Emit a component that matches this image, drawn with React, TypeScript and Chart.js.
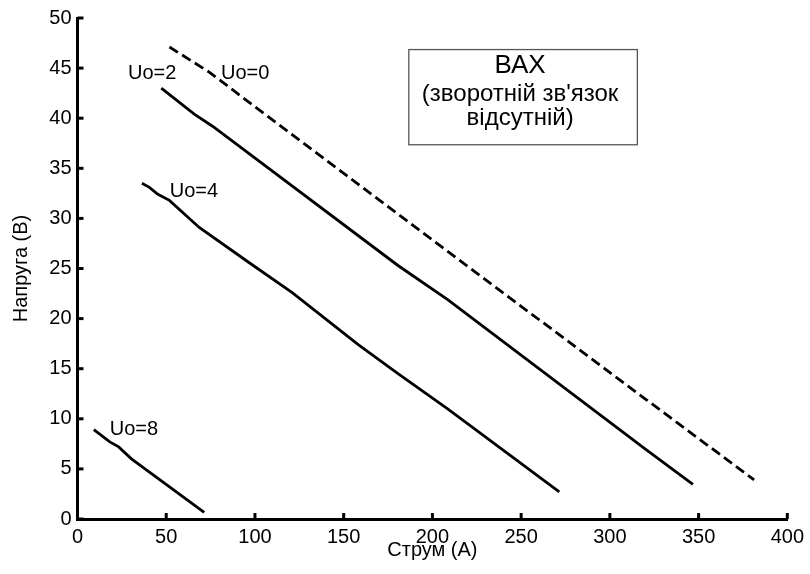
import React, { useEffect, useRef } from "react";
import { Chart, registerables } from "chart.js";

Chart.register(...registerables);

// Data (current A, voltage V)
const uo0X = [51.8, 74.2, 92.9, 208.6, 320.6, 381.3];
const uo0Y = [47.1, 44.6, 42.1, 26.7, 11.9, 3.9];

const uo2X = [47.2, 65.8, 76.1, 180.6, 208.6, 320.6, 346.8];
const uo2Y = [43.0, 40.4, 39.2, 25.3, 21.9, 6.9, 3.45];

const uo4X = [36.3, 40.5, 45.3, 51.8, 68.6, 96.6, 121.0, 158.2, 180.6, 208.6, 271.5];
const uo4Y = [33.5, 33.1, 32.4, 31.8, 29.1, 25.6, 22.6, 17.4, 14.5, 11.0, 2.7];

const uo8X = [9.2, 18.2, 23.2, 30.4, 71.4];
const uo8Y = [8.93, 7.7, 7.2, 6.0, 0.67];

const curveLabels = ["Uo=0", "Uo=2", "Uo=4", "Uo=8"];
const curveLabelX = [94.5, 42.1, 65.6, 31.8];
const curveLabelY = [44.5, 44.5, 32.7, 8.9];

const boxLines = ["ВАХ", "(зворотній зв'язок", "відсутній)"];

const xTitle = "Струм (А)";
const yTitle = "Напруга (В)";

const FONT = "'Liberation Sans', Arial, sans-serif";

function pts(xs: number[], ys: number[]) {
  return xs.map((x, i) => ({ x, y: ys[i] }));
}

export default function App() {
  const ref = useRef<HTMLCanvasElement | null>(null);

  useEffect(() => {
    if (!ref.current) return;

    const overlay = {
      id: "overlay",
      afterDatasetsDraw(chart: any) {
        const ctx = chart.ctx;
        const xs = chart.scales.x;
        const ys = chart.scales.y;
        const area = chart.chartArea;
        ctx.save();
        // inward ticks
        ctx.strokeStyle = "#000";
        ctx.lineWidth = 3;
        ctx.lineCap = "butt";
        xs.ticks.forEach((t: any) => {
          const px = xs.getPixelForValue(t.value);
          ctx.beginPath();
          ctx.moveTo(px, area.bottom);
          ctx.lineTo(px, area.bottom - 6);
          ctx.stroke();
        });
        ys.ticks.forEach((t: any) => {
          const py = ys.getPixelForValue(t.value);
          ctx.beginPath();
          ctx.moveTo(area.left, py);
          ctx.lineTo(area.left + 6, py);
          ctx.stroke();
        });
        // curve labels
        ctx.fillStyle = "#000";
        ctx.font = `20px ${FONT}`;
        ctx.textAlign = "center";
        ctx.textBaseline = "middle";
        curveLabels.forEach((l, i) => {
          ctx.fillText(l, xs.getPixelForValue(curveLabelX[i]), ys.getPixelForValue(curveLabelY[i]));
        });
        // text box
        const bx0 = xs.getPixelForValue(186.7);
        const bx1 = xs.getPixelForValue(315.5);
        const by0 = ys.getPixelForValue(46.85);
        const by1 = ys.getPixelForValue(37.35);
        ctx.fillStyle = "#fff";
        ctx.fillRect(bx0, by0, bx1 - bx0, by1 - by0);
        ctx.strokeStyle = "#555";
        ctx.lineWidth = 1.3;
        ctx.strokeRect(bx0, by0, bx1 - bx0, by1 - by0);
        ctx.fillStyle = "#000";
        ctx.textBaseline = "alphabetic";
        const cx = (bx0 + bx1) / 2 - 3;
        ctx.font = `26px ${FONT}`;
        ctx.fillText(boxLines[0], cx, by0 + 23);
        ctx.font = `24px ${FONT}`;
        ctx.fillText(boxLines[1], cx, by0 + 51);
        ctx.fillText(boxLines[2], cx, by0 + 75);
        ctx.restore();
      },
    };

    const chart = new Chart(ref.current, {
      type: "scatter",
      data: {
        datasets: [
          { data: pts(uo0X, uo0Y), borderDash: [10, 5] },
          { data: pts(uo2X, uo2Y) },
          { data: pts(uo4X, uo4Y) },
          { data: pts(uo8X, uo8Y) },
        ].map((d) => ({
          ...d,
          showLine: true,
          borderColor: "#000",
          borderWidth: 2.8,
          pointRadius: 0,
          fill: false,
          tension: 0,
        })) as any,
      },
      options: {
        animation: false,
        responsive: true,
        maintainAspectRatio: false,
        layout: { padding: { left: 0, top: 17, right: 18, bottom: 0 } },
        plugins: {
          legend: { display: false },
          tooltip: { enabled: false },
        },
        scales: {
          x: {
            type: "linear",
            min: 0,
            max: 400,
            ticks: {
              stepSize: 50,
              color: "#000",
              font: { family: FONT, size: 20 },
              padding: 6,
              maxRotation: 0,
            },
            grid: { display: false, drawTicks: false },
            border: { display: true, color: "#000", width: 3 },
            title: {
              display: true,
              text: xTitle,
              color: "#000",
              font: { family: FONT, size: 20 },
              padding: { top: 0, bottom: 12 },
            },
            afterFit(scale: any) {
              scale.height = 55;
            },
          },
          y: {
            type: "linear",
            min: 0,
            max: 50,
            ticks: {
              stepSize: 5,
              color: "#000",
              font: { family: FONT, size: 20 },
              padding: 6,
            },
            grid: { display: false, drawTicks: false },
            border: { display: true, color: "#000", width: 3 },
            title: {
              display: true,
              text: yTitle,
              color: "#000",
              font: { family: FONT, size: 20 },
              padding: { top: 9, bottom: 0 },
            },
            afterFit(scale: any) {
              scale.width = 77.5;
            },
          },
        },
      },
      plugins: [overlay],
    });

    return () => chart.destroy();
  }, []);

  return (
    <div style={{ position: "absolute", left: 0, top: 0, width: 810, height: 574 }}>
      <canvas ref={ref} />
    </div>
  );
}
